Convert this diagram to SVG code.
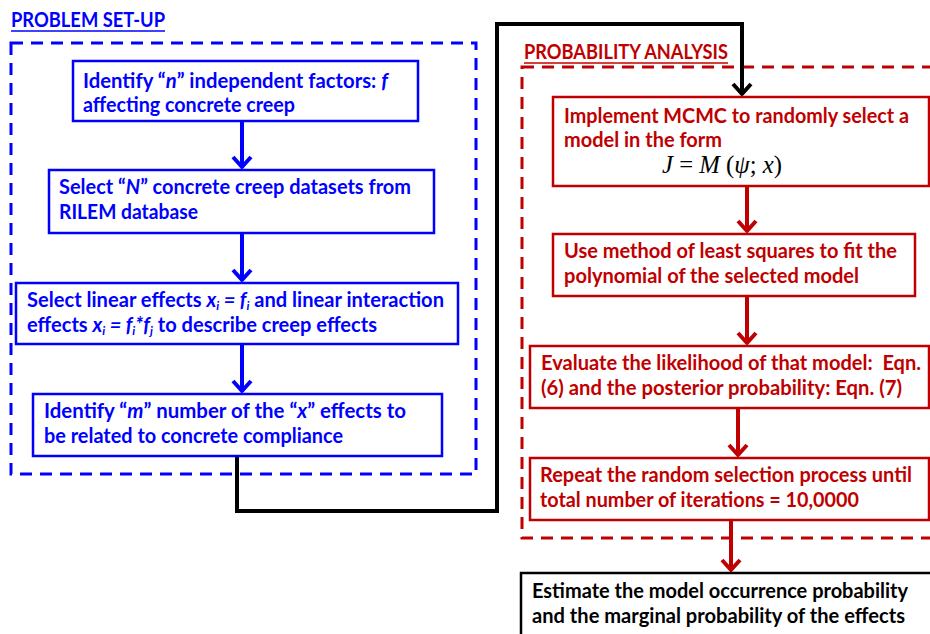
<svg xmlns="http://www.w3.org/2000/svg" width="930" height="634" viewBox="0 0 930 634">
<defs>
<style>
.t{font-family:Lato,"Liberation Sans",sans-serif;font-weight:bold;font-size:20px}
.blue{fill:#0000ff}
.red{fill:#c00000}
.blk{fill:#000}
.it{font-style:italic}
.sub{font-size:12px;font-style:italic}
.bbox{fill:none;stroke:#0000ff;stroke-width:2.5}
.rbox{fill:none;stroke:#c00000;stroke-width:2.5}
.kbox{fill:none;stroke:#000;stroke-width:2.5}
.bdash{fill:none;stroke:#0000ff;stroke-width:3;stroke-dasharray:12 8}
.rdash{fill:none;stroke:#c00000;stroke-width:3;stroke-dasharray:12 8}
.ba{stroke:#0000ff;stroke-width:4;fill:none}
.ra{stroke:#c00000;stroke-width:4;fill:none}
.ka{stroke:#000;stroke-width:4;fill:none}
.eq{font-family:"Liberation Serif","Times New Roman",serif;font-size:25px;fill:#000}
</style>
<marker id="mb" markerUnits="userSpaceOnUse" orient="auto" markerWidth="30" markerHeight="30" refX="0" refY="0" viewBox="-15 -15 30 30" overflow="visible"><path d="M-10 -9 L0 0 L-10 9" fill="none" stroke="#0000ff" stroke-width="4" stroke-linejoin="round"/></marker>
<marker id="mr" markerUnits="userSpaceOnUse" orient="auto" markerWidth="30" markerHeight="30" refX="0" refY="0" viewBox="-15 -15 30 30" overflow="visible"><path d="M-10 -9 L0 0 L-10 9" fill="none" stroke="#c00000" stroke-width="4" stroke-linejoin="round"/></marker>
<marker id="mk" markerUnits="userSpaceOnUse" orient="auto" markerWidth="30" markerHeight="30" refX="0" refY="0" viewBox="-15 -15 30 30" overflow="visible"><path d="M-10 -9 L0 0 L-10 9" fill="none" stroke="#000" stroke-width="4" stroke-linejoin="round"/></marker>
</defs>
<rect width="930" height="634" fill="#ffffff"/>

<g id="group-problem-setup">
<rect class="bdash" x="11" y="43" width="465" height="431"/>
<text class="t blue" x="11" y="27" font-size="19" textLength="154" lengthAdjust="spacingAndGlyphs">PROBLEM SET-UP</text>
<line x1="11" y1="31" x2="165" y2="31" stroke="#0000ff" stroke-width="1.5"/>
</g>

<g id="group-probability-analysis">
<rect class="rdash" x="522" y="67" width="420" height="471"/>
<text class="t red" x="524" y="59" font-size="19" textLength="204" lengthAdjust="spacingAndGlyphs">PROBABILITY ANALYSIS</text>
<line x1="524" y1="63" x2="728" y2="63" stroke="#c00000" stroke-width="1.5"/>
</g>

<g id="connectors">
<line class="ba" x1="242" y1="121" x2="242" y2="167" marker-end="url(#mb)"/>
<line class="ba" x1="242" y1="233" x2="242" y2="280" marker-end="url(#mb)"/>
<line class="ba" x1="242" y1="344" x2="242" y2="391" marker-end="url(#mb)"/>
<path class="ka" d="M237 456 V511 H497 V24 H742 V94" stroke-linejoin="miter" marker-end="url(#mk)"/>
<line class="ra" x1="747" y1="186" x2="747" y2="231" marker-end="url(#mr)"/>
<line class="ra" x1="747" y1="296" x2="747" y2="343" marker-end="url(#mr)"/>
<line class="ra" x1="738" y1="408" x2="738" y2="455" marker-end="url(#mr)"/>
<line class="ra" x1="731" y1="520" x2="731" y2="570" marker-end="url(#mr)"/>
</g>

<g id="node-identify-n">
<rect class="bbox" x="73" y="61" width="345" height="60"/>
<text class="t blue" x="83" y="88" textLength="305" lengthAdjust="spacingAndGlyphs">Identify “<tspan class="it">n</tspan>”  independent factors: <tspan class="it">f</tspan></text>
<text class="t blue" x="83" y="112" textLength="212" lengthAdjust="spacingAndGlyphs">affecting concrete creep</text>
</g>

<g id="node-select-N">
<rect class="bbox" x="49" y="170" width="385" height="63"/>
<text class="t blue" x="59" y="194" textLength="352" lengthAdjust="spacingAndGlyphs">Select “<tspan class="it">N</tspan>”  concrete creep datasets from</text>
<text class="t blue" x="59" y="219" textLength="139" lengthAdjust="spacingAndGlyphs">RILEM database</text>
</g>

<g id="node-linear-effects">
<rect class="bbox" x="16" y="283" width="442" height="61"/>
<text class="t blue" x="27" y="307" textLength="417" lengthAdjust="spacingAndGlyphs">Select linear effects <tspan class="it">x</tspan><tspan class="sub" dy="3">i</tspan><tspan class="it" dy="-3"> = f</tspan><tspan class="sub" dy="3">i</tspan><tspan dy="-3"> and linear interaction</tspan></text>
<text class="t blue" x="27" y="332" textLength="350" lengthAdjust="spacingAndGlyphs">effects <tspan class="it">x</tspan><tspan class="sub" dy="3">i</tspan><tspan class="it" dy="-3"> = f</tspan><tspan class="sub" dy="3">i</tspan><tspan class="it" dy="-3">*f</tspan><tspan class="sub" dy="3">j</tspan><tspan dy="-3"> to describe creep effects</tspan></text>
</g>

<g id="node-identify-m">
<rect class="bbox" x="33" y="394" width="409" height="62"/>
<text class="t blue" x="44" y="418" textLength="362" lengthAdjust="spacingAndGlyphs">Identify “<tspan class="it">m</tspan>”  number of the “<tspan class="it">x</tspan>”  effects to</text>
<text class="t blue" x="44" y="443" textLength="299" lengthAdjust="spacingAndGlyphs">be related to concrete compliance</text>
</g>

<g id="node-mcmc">
<rect class="rbox" x="553" y="97" width="376" height="89"/>
<text class="t red" x="564" y="123" textLength="345" lengthAdjust="spacingAndGlyphs">Implement MCMC to randomly select a</text>
<text class="t red" x="564" y="147" textLength="158" lengthAdjust="spacingAndGlyphs">model in the form</text>
<text class="eq" x="662" y="173" textLength="120" lengthAdjust="spacingAndGlyphs"><tspan font-style="italic">J</tspan> = <tspan font-style="italic">M</tspan> (<tspan font-style="italic">ψ</tspan>; <tspan font-style="italic">x</tspan>)</text>
</g>

<g id="node-least-squares">
<rect class="rbox" x="553" y="234" width="362" height="62"/>
<text class="t red" x="564" y="258" textLength="333" lengthAdjust="spacingAndGlyphs">Use method of least squares to fit the</text>
<text class="t red" x="564" y="283" textLength="295" lengthAdjust="spacingAndGlyphs">polynomial of the selected model</text>
</g>

<g id="node-likelihood">
<rect class="rbox" x="530" y="346" width="399" height="62"/>
<text class="t red" x="541" y="370" textLength="380" lengthAdjust="spacingAndGlyphs" style="white-space:pre">Evaluate the likelihood of that model:  Eqn.</text>
<text class="t red" x="541" y="395" textLength="361" lengthAdjust="spacingAndGlyphs">(6) and the posterior probability: Eqn. (7)</text>
</g>

<g id="node-repeat">
<rect class="rbox" x="530" y="458" width="399" height="62"/>
<text class="t red" x="540" y="482" textLength="372" lengthAdjust="spacingAndGlyphs">Repeat the random selection process until</text>
<text class="t red" x="540" y="507" textLength="319" lengthAdjust="spacingAndGlyphs">total number of iterations = 10,0000</text>
</g>

<g id="node-estimate">
<rect class="kbox" x="521" y="573" width="420" height="70"/>
<text class="t blk" x="532" y="598" textLength="376" lengthAdjust="spacingAndGlyphs">Estimate the model occurrence probability</text>
<text class="t blk" x="532" y="623" textLength="373" lengthAdjust="spacingAndGlyphs">and the marginal probability of the effects</text>
</g>
</svg>
